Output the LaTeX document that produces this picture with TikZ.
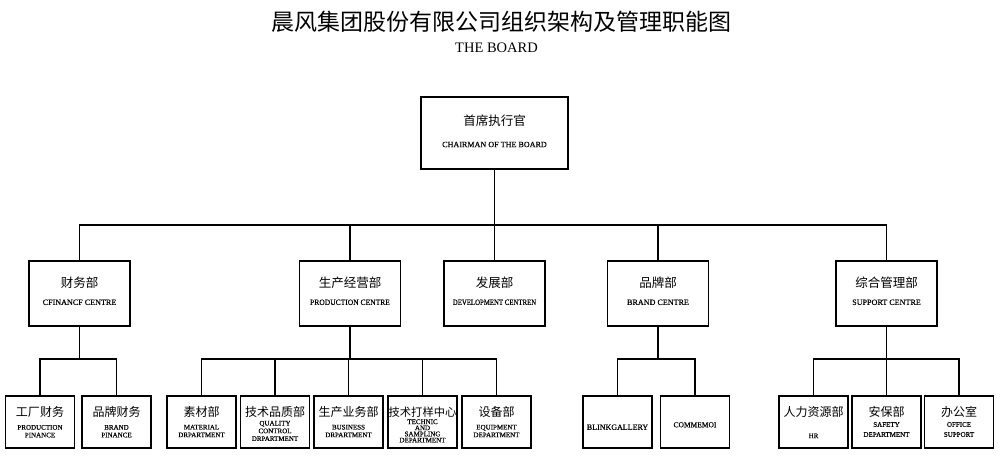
\documentclass[tikz,border=0pt]{standalone}
\usepackage{fontspec}
\setmainfont{Liberation Serif}
\newfontfamily\enb{Liberation Serif}[FakeBold=0.35]
\newfontfamily\cjk{Noto Sans CJK SC}
\begin{document}
\begin{tikzpicture}[x=1pt,y=-1pt,
  box/.style={draw, line width=1.3pt, rectangle, inner sep=0pt},
  boxA/.style={box, minimum width=147, minimum height=72},
  boxB/.style={box, minimum width=101, minimum height=65},
  boxC/.style={box, minimum width=69, minimum height=52},
  link/.style={line width=1.3pt},
  zhT/.style={font=\cjk\fontsize{23}{26}\selectfont, inner sep=0pt},
  zhM/.style={font=\cjk\fontsize{12.5}{14}\selectfont, inner sep=0pt},
  zhS/.style={font=\cjk\fontsize{12}{14}\selectfont, inner sep=0pt},
  enT/.style={font=\fontsize{14.5}{16}\selectfont, inner sep=0pt},
  enM/.style={font=\enb\fontsize{8.1}{9}\selectfont, inner sep=0pt},
  enS/.style={font=\enb\fontsize{7}{7.7}\selectfont, inner sep=0pt, align=center},
  enSw/.style={font=\enb\fontsize{7}{10}\selectfont, inner sep=0pt, align=center},
  enSt/.style={font=\enb\fontsize{7}{6.1}\selectfont, inner sep=0pt, align=center}
]
\useasboundingbox (0,0) rectangle (1000,463);
% title
\node[zhT] (title) at (501,21.5) {晨风集团股份有限公司组织架构及管理职能图};
\node[enT] (board) at (496.5,48) {THE BOARD};
% top
\node[boxA] (ceo) at (494.5,133) {};
\node[zhM] (ceozh) at (494.5,121) {首席执行官};
\node[enM] (ceoen) at (494.5,144.5) {CHAIRMAN OF THE BOARD};
% level 2
\node[boxB] (fin) at (79.5,293.5) {};
\node[boxB] (prod) at (350,293.5) {};
\node[boxB] (dev) at (494.5,293.5) {};
\node[boxB] (brand) at (658,293.5) {};
\node[boxB] (sup) at (886.5,293.5) {};
\node[zhM] at (79.5,282.7) (finzh) {财务部};
\node[enM] at (79.5,302.3) (finen) {CFINANCF CENTRE};
\node[zhM] at (350,282.7) (prodzh) {生产经营部};
\node[enM] at (350,302.3) (proden) {\scalebox{0.93}[1]{PRODUCTION CENTRE}};
\node[zhM] at (494.5,282.7) (devzh) {发展部};
\node[enM] at (494.5,302.3) (deven) {\scalebox{0.84}[1]{DEVELOPMENT CENTREN}};
\node[zhM] at (658,282.7) (brandzh) {品牌部};
\node[enM] at (658,302.3) (branden) {BRAND CENTRE};
\node[zhM] at (886.5,282.7) (supzh) {综合管理部};
\node[enM] at (886.5,302.3) (supen) {SUPPORT CENTRE};
% level 3 boxes
\node[boxC] (f1) at (40,422) {};
\node[boxC] (f2) at (116.5,422) {};
\node[boxC] (p1) at (201.5,422) {};
\node[boxC] (p2) at (275,422) {};
\node[boxC] (p3) at (348.5,422) {};
\node[boxC] (p4) at (422.5,422) {};
\node[boxC] (p5) at (496.5,422) {};
\node[boxC] (b1) at (617.5,422) {};
\node[boxC] (b2) at (695,422) {};
\node[boxC] (s1) at (813.5,422) {};
\node[boxC] (s2) at (886.5,422) {};
\node[boxC] (s3) at (959,422) {};
% level 3 texts
\node[zhS] (f1zh) at (40,411.7) {工厂财务};
\node[enS] (f1en) at (40,431.2) {PRODUCTION\\PINANCE};
\node[zhS] (f2zh) at (116.5,411.7) {品牌财务};
\node[enS] (f2en) at (116.5,431.2) {BRAND\\PINANCE};
\node[zhS] (p1zh) at (201.5,411.7) {素材部};
\node[enS] (p1en) at (201.5,431) {MATERIAL\\DRPARTMENT};
\node[zhS] (p2zh) at (275,411.7) {技术品质部};
\node[enS] (p2en) at (275,430.9) {QUALITY\\CONTROL\\DRPARTMENT};
\node[zhS] (p3zh) at (348.5,411.7) {生产业务部};
\node[enS] (p3en) at (348.5,431) {BUSINESS\\DRPARTMENT};
\node[zhS, font=\cjk\fontsize{11.3}{13}\selectfont] (p4zh) at (422.5,411.7) {技术打样中心};
\node[enSt] (p4en) at (422.5,430.9) {TECHNIC\\AND\\SAMPLING\\DEPARTMENT};
\node[zhS] (p5zh) at (496.5,411.7) {设备部};
\node[enS] (p5en) at (496.5,431) {EQUIPMENT\\DEPARTMENT};
\node[enM, font=\enb\fontsize{8}{9}\selectfont] (b1en) at (617.5,427.2) {BLINKGALLERY};
\node[enS, font=\enb\fontsize{7.5}{8}\selectfont] (b2en) at (695,424.8) {COMMEMOI};
\node[zhS] (s1zh) at (813.5,411.7) {人力资源部};
\node[enS] (s1en) at (813.5,435.8) {HR};
\node[zhS] (s2zh) at (886.5,411.7) {安保部};
\node[enSw] (s2en) at (886.5,429.5) {SAFETY\\DEPARTMENT};
\node[zhS] (s3zh) at (959,411.7) {办公室};
\node[enSw] (s3en) at (959,429.5) {OFFICE\\SUPPORT};
% buses
\coordinate (busA) at (0,225);
\coordinate (busB) at (0,359);
\draw[link] (ceo.south) -- (ceo.south |- busA);
\draw[link] (fin.north) -- (fin.north |- busA) -- (sup.north |- busA) -- (sup.north);
\draw[link] (prod.north) -- (prod.north |- busA);
\draw[link] (dev.north) -- (dev.north |- busA);
\draw[link] (brand.north) -- (brand.north |- busA);
% finance
\draw[link] (fin.south) -- (fin.south |- busB);
\draw[link] (f1.north) -- (f1.north |- busB) -- (f2.north |- busB) -- (f2.north);
% production
\draw[link] (prod.south) -- (prod.south |- busB);
\draw[link] (p1.north) -- (p1.north |- busB) -- (p5.north |- busB) -- (p5.north);
\draw[link] (p2.north) -- (p2.north |- busB);
\draw[link] (p3.north) -- (p3.north |- busB);
\draw[link] (p4.north) -- (p4.north |- busB);
% brand
\draw[link] (brand.south) -- (brand.south |- busB);
\draw[link] (b1.north) -- (b1.north |- busB) -- (b2.north |- busB) -- (b2.north);
% support
\draw[link] (sup.south) -- (sup.south |- busB);
\draw[link] (s1.north) -- (s1.north |- busB) -- (s3.north |- busB) -- (s3.north);
\draw[link] (s2.north) -- (s2.north |- busB);
\end{tikzpicture}
\end{document}
